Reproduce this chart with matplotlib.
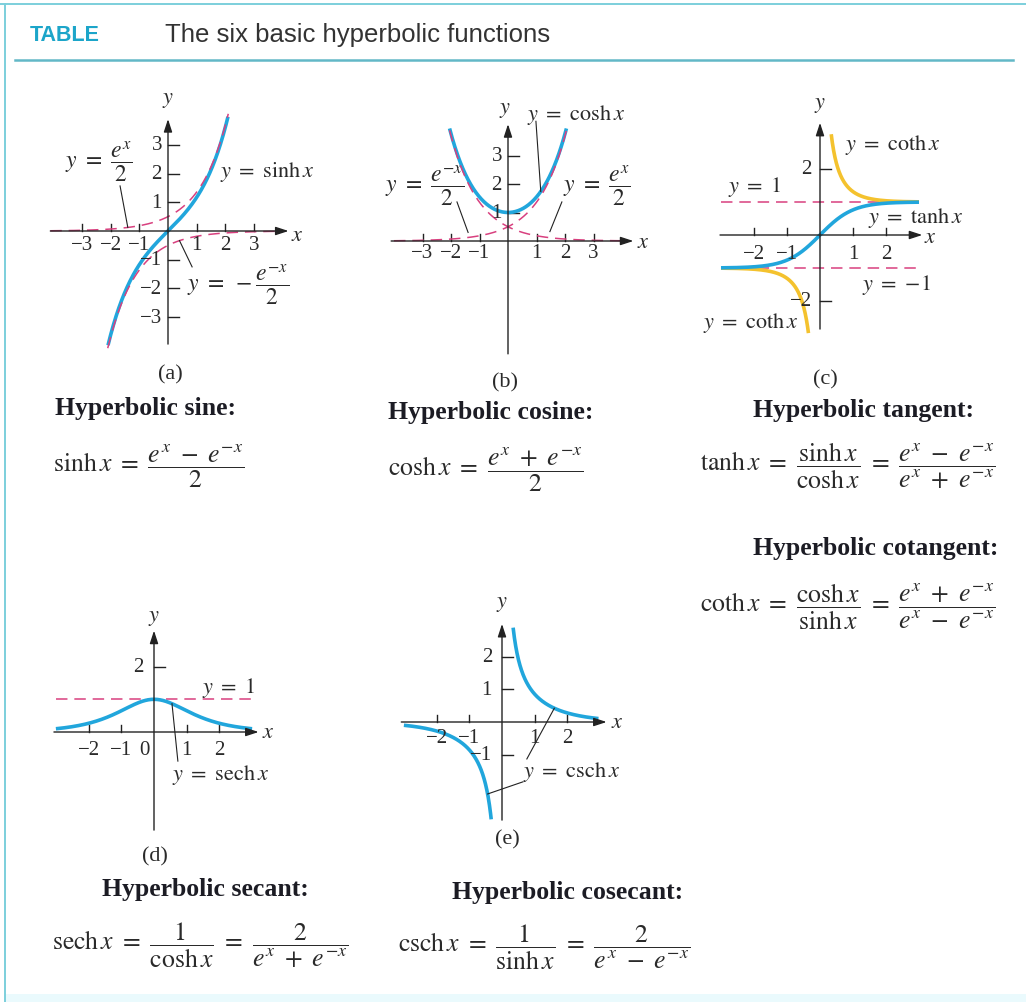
import numpy as np
import matplotlib
matplotlib.use('Agg')
import matplotlib.pyplot as plt
from matplotlib.patches import Rectangle

plt.rcParams['mathtext.fontset'] = 'stix'
plt.rcParams['font.family'] = ['Liberation Serif', 'DejaVu Serif']

W, H = 1026, 1003
BLUE = '#21a6dc'
PINK = '#d8407f'
GOLD = '#f4c22e'
AXC = '#222222'
TXT = '#2a2a2a'
TEAL = '#1ca5c9'

# domains of the drawn curves (x from, x to)
sinh_x = [-2.09, 2.09]
exp_half_x = [-4.1, 2.1]
negexp_half_x = [-2.1, 4.1]
cosh_x = [-2.05, 2.05]
cosh_exp_x = [-4.0, 2.05]
cosh_negexp_x = [-2.05, 4.0]
tanh_x = [-3.0, 3.0]
coth_pos_x = [0.34, 3.0]
coth_neg_x = [-3.0, -0.35]
sech_x = [-3.0, 3.0]
csch_pos_x = [0.34, 2.95]
csch_neg_x = [-3.0, -0.33]

# tick positions and labels for each panel
a_xt = [-3, -2, -1, 1, 2, 3]
a_yt = [-3, -2, -1, 1, 2, 3]
b_xt = [-3, -2, -1, 1, 2, 3]
b_yt = [1, 2, 3]
c_xt = [-2, -1, 1, 2]
c_yt = [-2, 2]
d_xt = [-2, -1, 1, 2]
d_yt = [2]
e_xt = [-2, -1, 1, 2]
e_yt = [-1, 1, 2]

TICK_FS = 15
LAB_FS = 16
FRAC_FS = 17
FORM_FS = 18.5

fig = plt.figure(figsize=(W / 100, H / 100), dpi=100)
bg = fig.add_axes([0, 0, 1, 1])
bg.set_xlim(0, W)
bg.set_ylim(H, 0)
bg.axis('off')

# frame and header
bg.plot([0, W], [5, 5], color='#7ccfdc', lw=1.4)
bg.plot([5, 5], [5, H], color='#7ccfdc', lw=1.4)
bg.add_patch(Rectangle((5, 995), W, 10, color='#eafafd', lw=0))
bg.plot([15, 1013], [61, 61], color='#62b8c7', lw=1.8)
bg.text(30, 35, 'TABLE', color=TEAL, fontsize=15.5, fontweight='bold',
        family=['Liberation Sans Narrow', 'Liberation Sans'], va='center')
bg.text(165, 35, 'The six basic hyperbolic functions', color='#333333', fontsize=18.5,
        family=['Liberation Sans Narrow', 'Liberation Sans'], va='center')


def panel(ox, oy, u, xlim, ylim):
    l = ox + xlim[0] * u
    r = ox + xlim[1] * u
    t = oy - ylim[1] * u
    b = oy - ylim[0] * u
    ax = fig.add_axes([l / W, 1 - b / H, (r - l) / W, (b - t) / H])
    ax.set_xlim(*xlim)
    ax.set_ylim(*ylim)
    ax.axis('off')
    ax.u = u
    return ax


def axes_lines(ax, xr, yr, xt, yt, xlab_gap, ylab_gap, xtick_len=7, ytick_len=11):
    u = ax.u
    arrow = dict(arrowstyle='-|>,head_length=0.55,head_width=0.18', color=AXC,
                 lw=1.0, shrinkA=0, shrinkB=0, mutation_scale=14)
    ax.annotate('', xy=(xr[1], 0), xytext=(xr[0], 0), arrowprops=arrow, annotation_clip=False)
    ax.annotate('', xy=(0, yr[1]), xytext=(0, yr[0]), arrowprops=arrow, annotation_clip=False)
    for v in xt:
        ax.plot([v, v], [0, xtick_len / u], color=AXC, lw=1.0, clip_on=False)
        ax.text(v, -xlab_gap / u, str(v).replace('-', '\u2212'), ha='center', va='top',
                fontsize=TICK_FS, color=TXT)
    for v in yt:
        ax.plot([0, ytick_len / u], [v, v], color=AXC, lw=1.0, clip_on=False)
        ax.text(-ylab_gap / u, v, str(v).replace('-', '\u2212'), ha='right', va='center',
                fontsize=TICK_FS, color=TXT)


def curve(ax, xr, f, **kw):
    xs = np.linspace(xr[0], xr[1], 400)
    ax.plot(xs, f(xs), clip_on=False, **kw)


def leader(ax, p, q):
    ax.plot([p[0], q[0]], [p[1], q[1]], color=AXC, lw=0.8, clip_on=False)


def label(x, y, s, size=LAB_FS, ha='left'):
    bg.text(x, y, s, fontsize=size, color=TXT, ha=ha, va='center')


dash = dict(color=PINK, lw=1.1, dashes=(7.5, 4.5))
solid = dict(color=BLUE, lw=2.6, solid_capstyle='butt')

# (a) sinh
ax = panel(168, 232, 28.7, (-4.2, 4.3), (-4.0, 4.0))
axes_lines(ax, (-4.1, 4.2), (-3.94, 3.9), a_xt, a_yt, 4, 6)
curve(ax, sinh_x, np.sinh, **solid)
curve(ax, exp_half_x, lambda x: np.exp(x) / 2, **dash)
curve(ax, negexp_half_x, lambda x: -np.exp(-x) / 2, **dash)
leader(ax, (-1.67, 1.57), (-1.4, np.exp(-1.4) / 2))
leader(ax, (0.84, -1.25), (0.4, -np.exp(-0.4) / 2))
label(168, 100, r'$y$', ha='center')
label(297, 236, r'$x$', ha='center')
label(65, 162, r'$y\ =\ \dfrac{e^{x}}{2}$', size=FRAC_FS)
label(220, 172, r'$y\ =\ \sinh x$')
label(187, 285, r'$y\ =\ -\dfrac{e^{-x}}{2}$', size=FRAC_FS)
label(170, 375, '(a)', ha='center')

# (b) cosh
ax = panel(508, 242, 28.5, (-4.2, 4.5), (-4.0, 4.2))
axes_lines(ax, (-4.1, 4.4), (-3.96, 4.1), b_xt, b_yt, 2, 6)
curve(ax, cosh_x, np.cosh, **solid)
curve(ax, cosh_exp_x, lambda x: np.exp(x) / 2, **dash)
curve(ax, cosh_negexp_x, lambda x: np.exp(-x) / 2, **dash)
leader(ax, (0.98, 4.2), (1.15, np.cosh(1.15)))
leader(ax, (-1.79, 1.37), (-1.4, 0.3))
leader(ax, (1.89, 1.37), (1.47, 0.33))
label(505, 110, r'$y$', ha='center')
label(643, 243, r'$x$', ha='center')
label(527, 115, r'$y\ =\ \cosh x$')
label(385, 186, r'$y\ =\ \dfrac{e^{-x}}{2}$', size=FRAC_FS)
label(563, 186, r'$y\ =\ \dfrac{e^{x}}{2}$', size=FRAC_FS)
label(505, 383, '(b)', ha='center')

# (c) tanh and coth
ax = panel(820, 236, 33, (-3.1, 3.3), (-3.0, 3.5))
ax.plot([-3, 3], [1, 1], **dash)
ax.plot([-3, 3], [-1, -1], **dash)
axes_lines(ax, (-3.03, 3.1), (-2.85, 3.4), c_xt, c_yt, 9, 8)
curve(ax, coth_pos_x, lambda x: 1 / np.tanh(x), color=GOLD, lw=2.6, solid_capstyle='butt')
curve(ax, coth_neg_x, lambda x: 1 / np.tanh(x), color=GOLD, lw=2.6, solid_capstyle='butt')
curve(ax, tanh_x, np.tanh, **solid)
label(820, 105, r'$y$', ha='center')
label(930, 238, r'$x$', ha='center')
label(845, 145, r'$y\ =\ \coth x$')
label(728, 187, r'$y\ =\ 1$')
label(868, 218, r'$y\ =\ \tanh x$')
label(862, 285, r'$y\ =\ {-}1$')
label(703, 323, r'$y\ =\ \coth x$')
label(825, 380, '(c)', ha='center')

# (d) sech
ax = panel(154, 733, 32.7, (-3.2, 3.4), (-3.1, 3.2))
ax.plot([-3, 3], [1, 1], **dash)
axes_lines(ax, (-3.06, 3.2), (-3.0, 3.1), d_xt, d_yt, 8, 10)
ax.text(-0.28, -8 / 32.7, '0', ha='center', va='top', fontsize=TICK_FS, color=TXT)
curve(ax, sech_x, lambda x: 1 / np.cosh(x), **solid)
leader(ax, (0.73, -0.89), (0.55, 1 / np.cosh(0.55)))
label(154, 618, r'$y$', ha='center')
label(268, 733, r'$x$', ha='center')
label(202, 688, r'$y\ =\ 1$')
label(172, 775, r'$y\ =\ \mathrm{sech}\, x$')
label(155, 857, '(d)', ha='center')

# (e) csch
ax = panel(502, 723, 32.7, (-3.2, 3.4), (-3.1, 3.1))
axes_lines(ax, (-3.08, 3.2), (-3.0, 3.0), e_xt, e_yt, 6, 10)
curve(ax, csch_pos_x, lambda x: 1 / np.sinh(x), **solid)
curve(ax, csch_neg_x, lambda x: 1 / np.sinh(x), **solid)
leader(ax, (0.76, -1.13), (1.6, 1 / np.sinh(1.6)))
leader(ax, (0.64, -1.83), (-0.44, 1 / np.sinh(-0.44)))
label(502, 605, r'$y$', ha='center')
label(617, 723, r'$x$', ha='center')
label(523, 772, r'$y\ =\ \mathrm{csch}\, x$')
label(507, 840, '(e)', ha='center')

# headings and definitions
head = dict(fontsize=18.5, fontweight='bold', color='#1c1c24', va='center')
bg.text(55, 408, 'Hyperbolic sine:', **head)
bg.text(388, 412, 'Hyperbolic cosine:', **head)
bg.text(753, 410, 'Hyperbolic tangent:', **head)
bg.text(753, 548, 'Hyperbolic cotangent:', **head)
bg.text(102, 890, 'Hyperbolic secant:', **head)
bg.text(452, 893, 'Hyperbolic cosecant:', **head)

label(53, 466, r'$\sinh x\ =\ \dfrac{e^{x}\ -\ e^{-x}}{2}$', size=FORM_FS)
label(388, 470, r'$\cosh x\ =\ \dfrac{e^{x}\ +\ e^{-x}}{2}$', size=FORM_FS)
label(700, 466, r'$\tanh x\ =\ \dfrac{\sinh x}{\cosh x}\ =\ \dfrac{e^{x}\ -\ e^{-x}}{e^{x}\ +\ e^{-x}}$', size=FORM_FS)
label(700, 607, r'$\coth x\ =\ \dfrac{\cosh x}{\sinh x}\ =\ \dfrac{e^{x}\ +\ e^{-x}}{e^{x}\ -\ e^{-x}}$', size=FORM_FS)
label(52, 945, r'$\mathrm{sech}\, x\ =\ \dfrac{1}{\cosh x}\ =\ \dfrac{2}{e^{x}\ +\ e^{-x}}$', size=FORM_FS)
label(398, 947, r'$\mathrm{csch}\, x\ =\ \dfrac{1}{\sinh x}\ =\ \dfrac{2}{e^{x}\ -\ e^{-x}}$', size=FORM_FS)

fig.savefig('out.png', dpi=100)
